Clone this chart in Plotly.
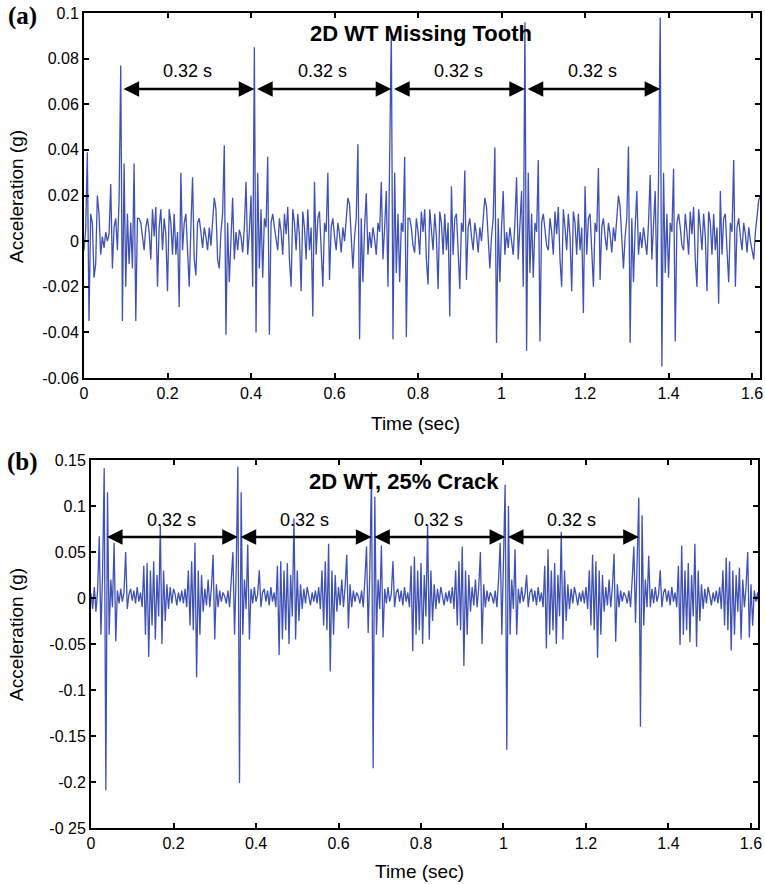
import numpy as np
import plotly.graph_objects as go

DT = 0.004  # sampling step (s)

# Panel (a): 2D WT Missing Tooth, acceleration (g)
acc_a = [
    -0.004, 0.005, 0.039, -0.035, 0.012, 0.008, -0.016, -0.01, 0.02, 0.012,
    -0.006, 0.002, -0.003, 0.004, 0.0, 0.003, 0.025, -0.012, 0.006, 0.01,
    -0.004, 0.018, 0.077, -0.035, 0.034, -0.02, 0.012, -0.01, 0.008, -0.012,
    0.034, -0.035, 0.01, 0.01, 0.008, 0.002, -0.004, 0.006, 0.01, 0.004,
    -0.008, 0.014, 0.002, 0.015, -0.02, 0.006, 0.014, -0.004, 0.01, 0.003,
    -0.022, 0.014, 0.008, -0.006, 0.012, -0.006, 0.004, -0.029, 0.03, -0.004,
    0.008, 0.012, -0.005, -0.02, 0.006, 0.028, -0.008, -0.015, 0.008, 0.01,
    0.004, -0.003, 0.006, 0.002, -0.004, 0.006, -0.002, 0.01, 0.019, 0.014,
    -0.008, -0.012, 0.004, 0.012, 0.042, -0.041, 0.008, -0.018, 0.004, 0.019,
    -0.008, 0.004, -0.004, 0.005, 0.002, -0.005, 0.006, 0.026, -0.006, 0.004,
    0.02, -0.02, 0.085, -0.04, 0.03, -0.012, 0.014, -0.016, 0.01, 0.006,
    0.037, -0.041, 0.008, 0.012, 0.006, 0.0, -0.004, 0.01, 0.004, -0.006,
    0.012, 0.003, 0.015, -0.008, -0.02, 0.014, 0.008, -0.004, 0.012, 0.002,
    -0.022, 0.013, 0.006, -0.008, 0.014, -0.004, 0.006, -0.033, 0.026, -0.006,
    0.01, 0.013, -0.004, -0.02, 0.008, 0.004, 0.03, -0.017, 0.006, 0.01,
    0.002, -0.004, 0.008, 0.003, -0.005, 0.006, 0.0, 0.01, 0.019, 0.016,
    0.004, -0.012, 0.002, 0.01, 0.0425, -0.043, 0.01, -0.018, 0.006, 0.021,
    -0.006, 0.004, -0.003, 0.006, 0.001, -0.006, 0.008, 0.004, 0.026, -0.008,
    0.006, 0.022, -0.02, 0.028, 0.092, -0.043, 0.03, -0.014, 0.012, -0.018,
    0.008, 0.004, 0.037, -0.042, 0.01, 0.01, 0.006, -0.002, -0.005, 0.01,
    0.004, -0.006, 0.013, 0.004, 0.014, -0.008, -0.019, 0.014, 0.006, -0.004,
    0.012, 0.002, -0.021, 0.013, 0.008, -0.006, 0.012, -0.004, 0.008, -0.033,
    0.024, -0.006, 0.01, 0.012, -0.004, -0.021, 0.008, 0.004, 0.031, -0.017,
    0.006, 0.01, 0.002, -0.004, 0.008, 0.003, -0.005, 0.006, 0.0, 0.01,
    0.019, 0.015, 0.003, -0.012, 0.002, 0.01, 0.041, -0.0446, 0.01, -0.018,
    0.006, 0.022, -0.006, 0.004, -0.003, 0.006, 0.0, -0.006, 0.008, 0.028,
    -0.008, 0.006, 0.022, -0.02, 0.096, -0.048, 0.03, -0.014, 0.012, -0.016,
    0.008, 0.004, 0.0356, -0.044, 0.008, 0.012, 0.006, -0.002, -0.004, 0.01,
    0.004, -0.006, 0.013, 0.003, 0.015, -0.008, -0.02, 0.014, 0.006, -0.004,
    0.012, 0.002, -0.022, 0.013, 0.008, -0.006, 0.012, -0.004, 0.006, -0.0315,
    0.024, -0.006, 0.01, 0.012, -0.004, -0.02, 0.008, 0.004, 0.032, -0.017,
    0.006, 0.01, 0.002, -0.004, 0.008, 0.003, -0.005, 0.006, 0.0, 0.01,
    0.02, 0.015, 0.003, -0.012, 0.002, 0.01, 0.0415, -0.0446, 0.01, -0.018,
    0.006, 0.022, -0.006, 0.004, -0.003, 0.006, 0.0, -0.006, 0.008, 0.029,
    -0.008, 0.006, 0.022, -0.02, 0.028, 0.098, -0.055, 0.03, -0.014, 0.012,
    -0.016, 0.008, 0.004, 0.0317, -0.044, 0.008, 0.012, 0.006, -0.002, -0.004,
    0.012, 0.004, -0.006, 0.013, 0.003, 0.015, -0.008, -0.02, 0.014, 0.006,
    -0.004, 0.012, 0.002, -0.022, 0.013, 0.008, -0.006, 0.012, -0.004, 0.006,
    -0.0275, 0.022, -0.006, 0.01, 0.012, -0.004, -0.018, 0.008, 0.004, 0.0356,
    -0.02, 0.006, 0.01, 0.002, -0.004, 0.008, 0.003, -0.005, 0.006, 0.0,
    -0.004, -0.008, 0.004, 0.012, 0.018, 0.02,
]

# Panel (b): 2D WT, 25% Crack
acc_b = [
    0.005, -0.012, 0.012, -0.015, 0.008, 0.067, -0.04, 0.025, 0.141, -0.209,
    0.115, -0.04, 0.02, -0.01, 0.06, -0.047, 0.008, -0.006, 0.01, -0.004,
    0.006, 0.05, -0.012, 0.004, 0.01, -0.003, 0.008, -0.006, 0.012, -0.004,
    0.006, -0.01, 0.035, -0.04, 0.038, -0.064, 0.03, -0.03, 0.04, -0.045,
    0.025, -0.02, 0.079, -0.05, 0.03, -0.025, 0.015, -0.012, 0.012, -0.006,
    0.01, 0.004, -0.008, 0.006, -0.004, 0.008, -0.006, 0.01, -0.01, 0.03,
    -0.03, 0.04, -0.035, 0.06, -0.086, 0.03, -0.04, 0.025, -0.015, 0.01,
    -0.008, 0.02, -0.01, 0.012, 0.047, -0.045, 0.015, -0.01, 0.008, -0.004,
    0.006, 0.002, -0.006, 0.008, -0.01, 0.025, 0.05, -0.04, 0.03, 0.1428,
    -0.201, 0.115, -0.04, 0.02, -0.012, 0.058, -0.045, 0.01, -0.006, 0.012,
    -0.004, 0.004, 0.03, -0.01, 0.006, 0.01, -0.004, 0.008, -0.008, 0.012,
    -0.004, 0.006, -0.01, 0.035, -0.062, 0.04, -0.045, 0.03, -0.035, 0.038,
    -0.05, 0.025, -0.02, 0.0866, -0.045, 0.03, -0.025, 0.015, -0.012, 0.01,
    -0.006, 0.012, 0.003, -0.008, 0.006, -0.004, 0.008, -0.006, 0.012, -0.012,
    0.03, -0.03, 0.04, -0.035, 0.059, -0.08, 0.03, -0.04, 0.025, -0.015,
    0.012, -0.008, 0.02, -0.01, 0.012, 0.047, -0.033, 0.015, -0.01, 0.008,
    -0.004, 0.006, 0.002, -0.006, 0.008, -0.01, 0.02, 0.056, -0.038, 0.03,
    0.137, -0.185, 0.11, -0.04, 0.02, -0.012, 0.057, -0.043, 0.01, -0.006,
    0.012, -0.004, 0.004, 0.04, -0.01, 0.006, 0.01, -0.004, 0.008, -0.008,
    0.012, -0.004, 0.006, -0.01, 0.035, -0.058, 0.045, -0.04, 0.03, -0.035,
    0.038, -0.05, 0.025, -0.02, 0.08, -0.045, 0.03, -0.025, 0.015, -0.012,
    0.01, -0.006, 0.012, 0.003, -0.008, 0.006, -0.004, 0.008, -0.006, 0.012,
    -0.012, 0.03, -0.03, 0.04, -0.035, 0.056, -0.074, 0.03, -0.04, 0.025,
    -0.015, 0.012, -0.008, 0.02, -0.01, 0.012, 0.05, -0.05, 0.015, -0.01,
    0.008, -0.004, 0.006, 0.002, -0.006, 0.008, -0.01, 0.02, 0.06, -0.04,
    0.03, 0.123, -0.165, 0.1, -0.04, 0.02, -0.012, 0.053, -0.04, 0.01,
    -0.006, 0.012, -0.004, 0.004, 0.025, -0.01, 0.006, 0.01, -0.004, 0.008,
    -0.008, 0.012, -0.004, 0.006, -0.01, 0.035, -0.055, 0.053, -0.04, 0.03,
    -0.035, 0.038, -0.05, 0.025, -0.02, 0.072, -0.045, 0.03, -0.025, 0.015,
    -0.012, 0.01, -0.006, 0.012, 0.003, -0.008, 0.006, -0.004, 0.008, -0.006,
    0.012, -0.012, 0.03, -0.03, 0.047, -0.035, 0.04, -0.065, 0.03, -0.04,
    0.025, -0.015, 0.012, -0.008, 0.02, -0.01, 0.012, 0.048, -0.0475, 0.015,
    -0.01, 0.008, -0.004, 0.006, 0.002, -0.006, 0.008, -0.01, 0.02, 0.056,
    -0.027, 0.03, 0.109, -0.14, 0.09, -0.03, 0.02, -0.01, 0.046, -0.01,
    0.01, -0.006, 0.012, -0.004, 0.004, 0.03, -0.01, 0.006, 0.01, -0.004,
    0.008, -0.008, 0.012, -0.004, 0.006, -0.01, 0.035, -0.051, 0.057, -0.04,
    0.03, -0.035, 0.038, -0.048, 0.025, -0.02, 0.059, -0.053, 0.03, -0.025,
    0.015, -0.012, 0.01, -0.006, 0.012, 0.003, -0.008, 0.006, -0.004, 0.008,
    -0.006, 0.012, -0.012, 0.03, -0.03, 0.044, -0.035, 0.04, -0.057, 0.03,
    -0.04, 0.025, -0.015, 0.033, -0.045, 0.02, -0.01, 0.012, 0.05, -0.043,
    0.015, -0.03, 0.008, -0.004, 0.006, -0.013,
]

# Impact times (s) marked by the 0.32 s arrows
impacts_a = [0.088, 0.408, 0.736, 1.056, 1.38]
impacts_b = [0.032, 0.356, 0.68, 1.004, 1.328]
period_label = "0.32 s"

x_ticks = [0, 0.2, 0.4, 0.6, 0.8, 1.0, 1.2, 1.4, 1.6]
x_ticktext = ["0", "0.2", "0.4", "0.6", "0.8", "1", "1.2", "1.4", "1.6"]
ya_ticks = [-0.06, -0.04, -0.02, 0, 0.02, 0.04, 0.06, 0.08, 0.1]
ya_ticktext = ["-0.06", "-0.04", "-0.02", "0", "0.02", "0.04", "0.06", "0.08", "0.1"]
yb_ticks = [-0.25, -0.2, -0.15, -0.1, -0.05, 0, 0.05, 0.1, 0.15]
yb_ticktext = ["-0 25", "-0.2", "-0.15", "-0.1", "-0.05", "0", "0.05", "0.1", "0.15"]

t_a = np.arange(len(acc_a)) * DT
t_b = np.arange(len(acc_b)) * DT

W, H = 765, 884
LINE = "#3F51B5"
FONT = "Liberation Sans, Arial, Helvetica, sans-serif"

fig = go.Figure()
fig.add_trace(go.Scatter(x=t_a, y=acc_a, mode="lines", line=dict(color=LINE, width=1.3),
                         xaxis="x", yaxis="y", showlegend=False, hoverinfo="skip"))
fig.add_trace(go.Scatter(x=t_b, y=acc_b, mode="lines", line=dict(color=LINE, width=1.3),
                         xaxis="x2", yaxis="y2", showlegend=False, hoverinfo="skip"))

def px(v):
    return v / W

def py(v):
    return 1 - v / H

axis_common = dict(showline=True, linewidth=2, linecolor="black", mirror="allticks",
                   ticks="inside", ticklen=5, tickwidth=1.5, tickcolor="black",
                   showgrid=False, zeroline=False, automargin=False,
                   tickfont=dict(family=FONT, size=16, color="black"))

fig.update_layout(
    width=W, height=H, margin=dict(l=0, r=0, t=0, b=0, pad=0),
    paper_bgcolor="white", plot_bgcolor="white",
    xaxis=dict(domain=[px(84), px(760)], range=[0, 1.619], anchor="y",
               tickvals=x_ticks, ticktext=x_ticktext, **axis_common),
    yaxis=dict(domain=[py(378), py(13)], range=[-0.06, 0.1], anchor="x",
               tickvals=ya_ticks, ticktext=ya_ticktext, **axis_common),
    xaxis2=dict(domain=[px(91), px(758)], range=[0, 1.617], anchor="y2",
                tickvals=x_ticks, ticktext=x_ticktext, **axis_common),
    yaxis2=dict(domain=[py(828), py(460)], range=[-0.25, 0.15], anchor="x2",
                tickvals=yb_ticks, ticktext=yb_ticktext, **axis_common),
)

ann = []
# double-headed arrows between impacts + period labels
for imp, xr, yr, y_arrow, y_text in [(impacts_a, "x", "y", 0.0667, 0.0745),
                                     (impacts_b, "x2", "y2", 0.0663, 0.0845)]:
    for a, b in zip(imp[:-1], imp[1:]):
        ann.append(dict(x=b, y=y_arrow, ax=a + 0.003, ay=y_arrow, xref=xr, yref=yr,
                        axref=xr, ayref=yr, text="", showarrow=True,
                        arrowhead=2, startarrowhead=2, arrowside="end+start",
                        arrowsize=1.3, startarrowsize=1.3, arrowwidth=2.4,
                        arrowcolor="black", standoff=0, startstandoff=0))
        ann.append(dict(x=(a + b) / 2, y=y_text, xref=xr, yref=yr, text=period_label,
                        showarrow=False, font=dict(family=FONT, size=18, color="black")))

def paper_text(text, x, y, size, family=FONT, angle=0):
    return dict(text=text, x=px(x), y=py(y), xref="paper", yref="paper",
                showarrow=False, textangle=angle, xanchor="center", yanchor="middle",
                font=dict(family=family, size=size, color="black"))

ann += [
    paper_text("<b>2D WT Missing Tooth</b>", 421, 34, 22),
    paper_text("<b>2D WT, 25% Crack</b>", 404, 482, 22),
    paper_text("<b>(a)</b>", 22, 16, 25, family="Liberation Serif, Times New Roman, serif"),
    paper_text("<b>(b)</b>", 22, 462, 25, family="Liberation Serif, Times New Roman, serif"),
    paper_text("Time (sec)", 416, 423, 19),
    paper_text("Time (sec)", 419, 871, 19),
    paper_text("Acceleration (g)", 16, 197, 19, angle=-90),
    paper_text("Acceleration (g)", 16, 635, 19, angle=-90),
]
fig.update_layout(annotations=ann)

fig.write_html("out.html", config={"displayModeBar": False},
               post_script="document.body.style.margin='0px';document.body.style.overflow='hidden';")
